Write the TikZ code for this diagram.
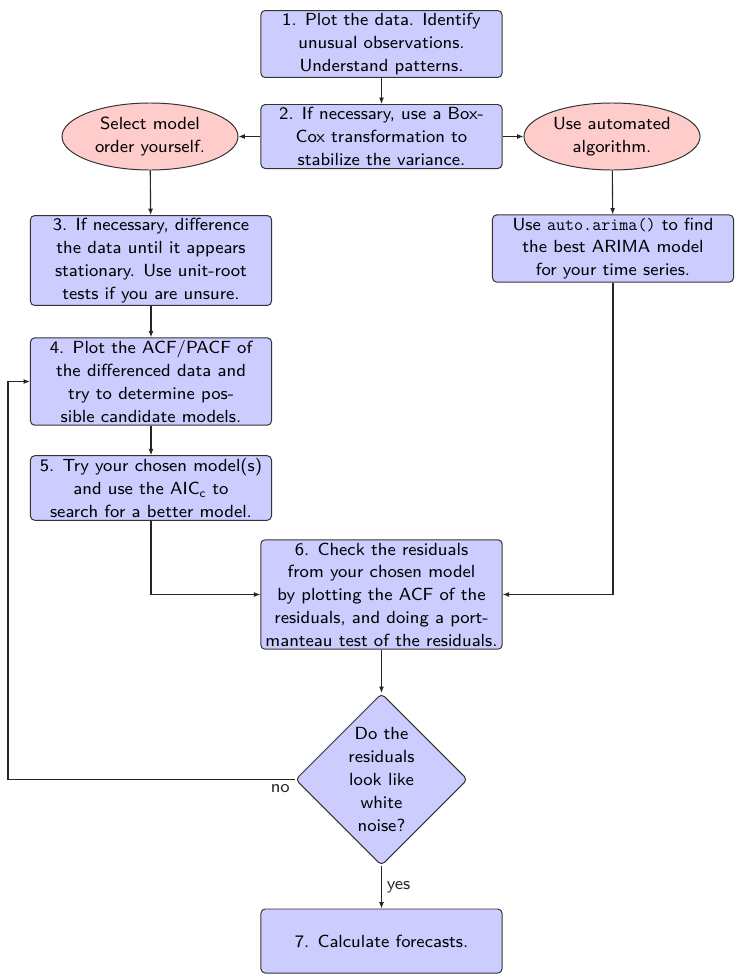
\documentclass[tikz,border=0pt]{standalone}
\usepackage{fontspec}
\newfontfamily\flowsans{lmsans8-regular.otf}
\usetikzlibrary{arrows.meta}
\usetikzlibrary{shapes.geometric}

\tikzset{
  txt/.style={font=\flowsans\fontsize{12.5}{16.2}\selectfont},
  stepbox/.style={txt, draw=black!80, line width=0.7pt, fill=blue!20, rounded corners=3pt,
    align=center, minimum width=6.025cm, minimum height=1.6cm, inner ysep=2pt},
  choice/.style={txt, ellipse, draw=black!80, line width=0.7pt, fill=red!20, align=center,
    minimum width=4.4cm, minimum height=1.675cm, inner sep=0pt},
  question/.style={txt, diamond, aspect=1, draw=black!80, line width=0.7pt, fill=blue!20,
    rounded corners=3pt, align=center, minimum width=4.3cm, minimum height=4.3cm,
    inner sep=0pt},
  flow/.style={-{Latex[length=4.5pt,width=3.5pt]}, black!85, line width=0.8pt}
}

\begin{document}
\begin{tikzpicture}[x=0.025cm, y=-0.025cm]
\useasboundingbox (0,0) rectangle (743,980);

% Schritte
\node[stepbox] (plot) at (381.5,44) {1. Plot the data. Identify\\unusual observations.\\Understand patterns.};
\node[stepbox] (boxcox) at (381.5,136.5) {2. If necessary, use a Box-\\Cox transformation to\\stabilize the variance.};
\node[choice] (self) at (150,136.5) {Select model\\order yourself.};
\node[choice] (auto) at (612,136.5) {Use automated\\algorithm.};
\node[stepbox] (diff) at (151,260.5) {3. If necessary, difference\\the data until it appears\\stationary. Use unit-root\\tests if you are unsure.};
\node[stepbox] (arima) at (613,248.5) {Use {\ttfamily auto.arima()} to find\\the best ARIMA model\\for your time series.};
\node[stepbox] (acf) at (151,381.5) {4. Plot the ACF/PACF of\\the differenced data and\\try to determine pos-\\sible candidate models.};
\node[stepbox] (try) at (151,488) {5. Try your chosen model(s)\\and use the AIC\textsubscript{c} to\\search for a better model.};
\node[stepbox] (check) at (381.5,594.5) {6. Check the residuals\\from your chosen model\\by plotting the ACF of the\\residuals, and doing a port-\\manteau test of the residuals.};
\node[question] (white) at (381.5,779.5) {Do the\\residuals\\look like\\white\\noise?};
\node[stepbox] (fc) at (381.5,941) {7. Calculate forecasts.};

% Verbindungen
\coordinate (back) at (8,779.5);
\draw[flow] (plot) -- (boxcox);
\draw[flow] (boxcox) -- (self);
\draw[flow] (boxcox) -- (auto);
\draw[flow] (self) -- (diff);
\draw[flow] (auto) -- (arima);
\draw[flow] (diff) -- (acf);
\draw[flow] (acf) -- (try);
\draw[flow] (try) |- (check);
\draw[flow] (arima) |- (check);
\draw[flow] (check) -- (white);
\draw[flow] (white) -- node[txt, right] {yes} (fc);
\draw[flow] (white.west) node[txt, below left] {no} -- (back) |- (acf);

\end{tikzpicture}
\end{document}
